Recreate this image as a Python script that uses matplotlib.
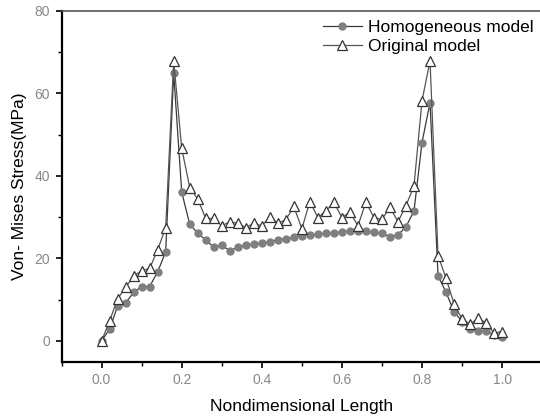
import matplotlib
matplotlib.use("Agg")
import matplotlib.pyplot as plt
from matplotlib.ticker import MultipleLocator

plt.rcParams['font.family'] = ['Liberation Sans', 'DejaVu Sans']

# Nondimensional length, 0.00 to 1.00 in steps of 0.02
x = [0.00, 0.02, 0.04, 0.06, 0.08, 0.10, 0.12, 0.14, 0.16, 0.18,
     0.20, 0.22, 0.24, 0.26, 0.28, 0.30, 0.32, 0.34, 0.36, 0.38,
     0.40, 0.42, 0.44, 0.46, 0.48, 0.50, 0.52, 0.54, 0.56, 0.58,
     0.60, 0.62, 0.64, 0.66, 0.68, 0.70, 0.72, 0.74, 0.76, 0.78,
     0.80, 0.82, 0.84, 0.86, 0.88, 0.90, 0.92, 0.94, 0.96, 0.98,
     1.00]

homogeneous = [0.0, 2.9, 8.5, 9.2, 11.8, 13.2, 13.2, 16.8, 21.6, 64.9,
               36.1, 28.3, 26.1, 24.5, 22.7, 23.2, 21.9, 22.7, 23.2, 23.5,
               23.7, 24.1, 24.5, 24.7, 25.1, 25.5, 25.7, 25.9, 26.1, 26.1,
               26.5, 26.6, 26.6, 26.6, 26.3, 26.1, 25.3, 25.7, 27.7, 31.5,
               48.1, 57.8, 15.8, 11.8, 7.1, 4.7, 2.9, 2.5, 2.5, 1.5,
               1.0]

original = [0.0, 4.9, 10.2, 13.0, 15.8, 17.0, 17.6, 22.1, 27.5, 67.9,
            46.7, 37.2, 34.4, 29.7, 29.7, 27.9, 28.9, 28.5, 27.5, 28.5,
            27.9, 30.1, 28.5, 29.4, 32.6, 27.2, 33.8, 29.9, 31.5, 33.6,
            29.9, 31.3, 27.9, 33.7, 29.9, 29.5, 32.4, 28.9, 32.8, 37.6,
            58.2, 67.9, 20.7, 15.2, 9.0, 5.3, 4.1, 5.5, 4.4, 1.9,
            2.3]

fig = plt.figure(figsize=(5.4, 4.2), dpi=100)
ax = fig.add_axes([0.114, 0.139, 0.89, 0.835])

ax.plot(x, homogeneous, color='#3a3a3a', linewidth=0.9, marker='o',
        markersize=5, markerfacecolor='#7f7f7f', markeredgecolor='#7f7f7f',
        label='Homogeneous model', zorder=2)
ax.plot(x, original, color='#555555', linewidth=0.9, marker='^',
        markersize=7, markerfacecolor='white', markeredgecolor='#333333',
        markeredgewidth=0.9, label='Original model', zorder=3)

ax.set_xlim(-0.1, 1.1)
ax.set_ylim(-5, 80)
ax.xaxis.set_minor_locator(MultipleLocator(0.1))
ax.yaxis.set_major_locator(MultipleLocator(20))
ax.yaxis.set_minor_locator(MultipleLocator(10))
ax.set_xticks([0.0, 0.2, 0.4, 0.6, 0.8, 1.0])
ax.set_xticklabels(['0.0', '0.2', '0.4', '0.6', '0.8', '1.0'])

ax.tick_params(which='major', direction='out', length=4.5, width=1.2,
               labelsize=10, labelcolor='#888888', pad=4)
ax.tick_params(which='minor', direction='out', length=3, width=1.0)

for side in ['left', 'bottom']:
    ax.spines[side].set_linewidth(1.6)
ax.spines['top'].set_linewidth(1.2)
ax.spines['top'].set_color('#555555')
ax.spines['right'].set_visible(False)

ax.set_xlabel('Nondimensional Length', fontsize=12.5, labelpad=8)
ax.set_ylabel('Von- Mises Stress(MPa)', fontsize=12.5, labelpad=5)

ax.legend(loc='upper right', frameon=False, fontsize=12.5,
          handlelength=2.25, handletextpad=0.35, labelspacing=0.25,
          borderaxespad=0.1, bbox_to_anchor=(1.0, 1.0))

fig.savefig('out.png', dpi=100)
